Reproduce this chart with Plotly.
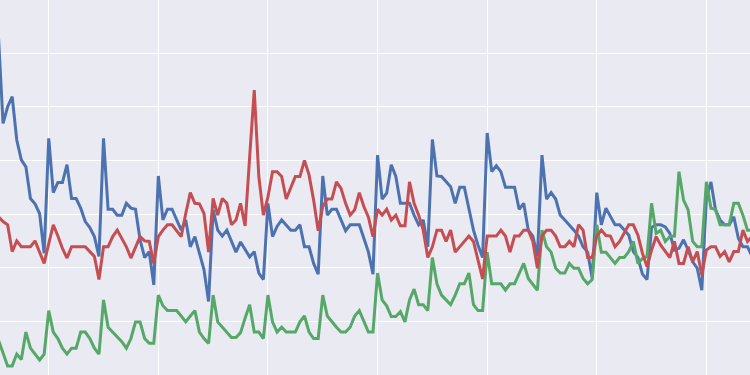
import plotly.graph_objects as go

# Monthly index values
blue = [6.3, 4.69, 5.00, 5.19, 4.38, 4.01, 3.88, 3.29, 3.19, 3.01, 2.27, 4.41,
        3.40, 3.59, 3.59, 3.92, 3.29, 3.29, 3.11, 2.86, 2.75, 2.58, 2.21, 4.41,
        3.09, 3.09, 2.98, 2.98, 3.20, 3.11, 3.09, 2.52, 2.19, 2.30, 1.68, 3.71,
        2.89, 3.09, 3.09, 2.89, 2.70, 2.89, 2.39, 2.58, 2.27, 1.96, 1.37, 3.08,
        2.70, 2.59, 2.70, 2.49, 2.29, 2.48, 2.34, 2.20, 2.30, 1.90, 1.78, 3.20,
        2.58, 2.77, 2.89, 2.80, 2.70, 2.70, 2.80, 2.39, 2.39, 2.08, 1.88, 3.71,
        2.98, 3.09, 3.09, 2.89, 2.69, 2.80, 2.80, 2.80, 2.55, 2.29, 1.88, 4.10,
        3.28, 3.39, 3.92, 3.70, 3.20, 3.20, 3.20, 2.98, 2.80, 2.89, 2.39, 4.39,
        3.71, 3.70, 3.60, 3.51, 3.20, 3.50, 3.50, 3.08, 2.70, 2.42, 2.19, 4.51,
        3.79, 3.90, 3.79, 3.50, 3.50, 3.50, 3.09, 3.20, 2.70, 2.59, 2.21, 4.10,
        3.28, 3.40, 3.28, 2.98, 2.89, 2.80, 2.70, 2.59, 2.39, 2.29, 1.80, 3.40,
        2.80, 3.11, 2.95, 2.80, 2.80, 2.70, 2.61, 2.30, 2.19, 1.88, 1.78, 2.75,
        2.80, 2.80, 2.76, 2.64, 2.33, 2.36, 2.52, 2.33, 2.11, 1.99, 1.58, 3.30,
        3.60, 3.08, 2.89, 2.80, 2.80, 2.95, 2.55, 2.39, 2.39, 2.21]

red = [2.95, 2.86, 2.80, 2.30, 2.50, 2.39, 2.39, 2.39, 2.50, 2.27, 2.08, 2.45,
       2.80, 2.59, 2.36, 2.18, 2.39, 2.39, 2.39, 2.39, 2.30, 2.21, 1.78, 2.39,
       2.39, 2.58, 2.70, 2.53, 2.39, 2.18, 2.39, 2.58, 2.50, 2.49, 2.08, 2.58,
       2.70, 2.80, 2.80, 2.70, 2.58, 3.01, 3.40, 3.20, 3.19, 3.01, 2.29, 3.29,
       2.98, 3.29, 3.20, 2.80, 2.89, 3.20, 2.78, 4.07, 5.31, 3.70, 2.98, 3.32,
       3.79, 3.79, 3.70, 3.28, 3.48, 3.70, 3.70, 4.00, 3.73, 3.26, 2.69, 3.14,
       3.28, 3.28, 3.60, 3.48, 3.20, 2.98, 3.08, 3.40, 3.14, 2.94, 2.58, 3.09,
       2.98, 3.09, 2.89, 2.98, 2.78, 2.78, 3.60, 3.20, 2.98, 2.70, 2.19, 2.39,
       2.70, 2.70, 2.49, 2.70, 2.29, 2.39, 2.49, 2.59, 2.49, 2.14, 1.79, 2.59,
       2.59, 2.59, 2.70, 2.59, 2.29, 2.59, 2.59, 2.70, 2.70, 2.49, 1.99, 2.59,
       2.70, 2.70, 2.59, 2.39, 2.39, 2.49, 2.39, 2.80, 2.70, 2.19, 2.19, 2.59,
       2.70, 2.60, 2.59, 2.39, 2.49, 2.64, 2.80, 2.80, 2.61, 2.27, 2.02, 2.33,
       2.58, 2.42, 2.30, 2.19, 2.49, 2.08, 2.08, 2.39, 2.11, 2.30, 1.86, 2.33,
       2.39, 2.39, 2.21, 2.30, 2.11, 2.30, 2.30, 2.70, 2.49, 2.58]

green = [0.65, 0.40, 0.17, 0.17, 0.39, 0.29, 0.80, 0.50, 0.39, 0.28, 0.39, 1.20,
         0.80, 0.68, 0.50, 0.39, 0.50, 0.50, 0.80, 0.80, 0.68, 0.50, 0.39, 1.40,
         0.89, 0.80, 0.70, 0.62, 0.50, 0.68, 0.99, 0.99, 0.68, 0.59, 0.59, 1.49,
         1.29, 1.20, 1.20, 1.20, 1.10, 0.99, 1.10, 1.20, 0.80, 0.68, 0.59, 1.49,
         0.99, 0.89, 0.80, 0.70, 0.70, 0.79, 1.06, 1.31, 0.80, 0.80, 0.68, 1.49,
         0.99, 0.80, 0.89, 0.80, 0.80, 0.80, 0.99, 1.10, 0.80, 0.68, 0.68, 1.49,
         1.10, 0.99, 0.89, 0.80, 0.80, 0.89, 1.10, 1.20, 0.99, 0.80, 0.80, 1.90,
         1.40, 1.29, 1.09, 1.09, 1.18, 0.99, 1.40, 1.60, 1.31, 1.31, 1.20, 2.19,
         1.70, 1.49, 1.40, 1.31, 1.49, 1.70, 1.70, 1.90, 1.31, 1.20, 1.20, 2.29,
         1.70, 1.70, 1.70, 1.58, 1.70, 1.70, 1.90, 2.08, 1.80, 1.70, 1.58, 2.70,
         2.39, 2.29, 1.99, 1.90, 1.90, 2.08, 1.99, 1.99, 1.80, 1.70, 1.78, 2.80,
         2.29, 2.29, 2.19, 2.08, 2.19, 2.19, 2.30, 2.49, 2.08, 2.17, 2.21, 3.20,
         2.64, 2.70, 2.49, 2.58, 2.59, 3.79, 3.26, 3.08, 2.49, 2.39, 2.39, 3.60,
         3.11, 3.09, 2.80, 2.80, 2.80, 3.20, 3.20, 2.98, 2.70, 2.70]

months = list(range(len(blue)))

series = [("blue", blue, "#4C72B0"), ("green", green, "#55A868"), ("red", red, "#C44E52")]

fig = go.Figure()
for name, vals, col in series:
    fig.add_trace(go.Scatter(x=months, y=vals, mode="lines", name=name,
                             line=dict(color=col, width=3)))

fig.update_layout(
    width=750, height=375,
    margin=dict(l=0, r=0, t=0, b=0),
    paper_bgcolor="#EAEAF2", plot_bgcolor="#EAEAF2",
    showlegend=False,
)
fig.update_xaxes(range=[0.33, 164.55], tick0=11, dtick=24, showgrid=True,
                 gridcolor="white", gridwidth=1.3, showticklabels=False,
                 zeroline=False, showline=False, ticks="")
fig.update_yaxes(range=[0.0, 6.99], tick0=0, dtick=1, showgrid=True,
                 gridcolor="white", gridwidth=1.3, showticklabels=False,
                 zeroline=False, showline=False, ticks="")

fig.write_html("out.html",
               config={"displayModeBar": False},
               post_script="document.body.style.margin='0';document.body.style.background='#EAEAF2';")
